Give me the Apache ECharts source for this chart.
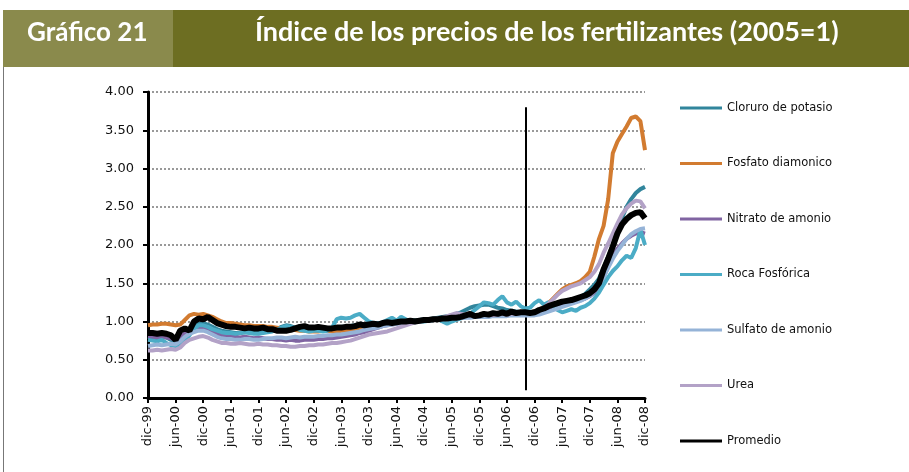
<!DOCTYPE html>
<html>
<head>
<meta charset="utf-8">
<script src="https://cdn.jsdelivr.net/npm/echarts@6/dist/echarts.min.js"></script>
<style>
  html, body { margin: 0; padding: 0; background: #fff; }
  #main { width: 909px; height: 472px; }
</style>
</head>
<body>
<div id="main"></div>
<script>
// meses en castellano, eje mensual dic-99 .. dic-08
const monthNames = ['ene', 'feb', 'mar', 'abr', 'may', 'jun', 'jul', 'ago', 'sep', 'oct', 'nov', 'dic'];
const years = ['00', '01', '02', '03', '04', '05', '06', '07', '08'];
const categories = ['dic-99'];
years.forEach(y => monthNames.forEach(m => categories.push(m + '-' + y)));

const seriesNames = ['Cloruro de potasio', 'Fosfato diamonico', 'Nitrato de amonio', 'Roca Fosfórica', 'Sulfato de amonio', 'Urea', 'Promedio'];
const seriesColors = ['#31859c', '#d27b30', '#8064a2', '#4bacc6', '#95b3d7', '#b3a2c7', '#000000'];

const cloruro = [
  0.80, 0.79, 0.78, 0.80, 0.79, 0.76, 0.74, 0.78, 0.84, 0.90, 0.95, 0.97,
  0.98, 0.96, 0.93, 0.90, 0.88, 0.87, 0.86, 0.85, 0.85, 0.86, 0.86, 0.87,
  0.86, 0.86, 0.87, 0.88, 0.90, 0.93, 0.95, 0.94, 0.92, 0.90, 0.89, 0.88,
  0.88, 0.88, 0.89, 0.90, 0.91, 0.92, 0.93, 0.93, 0.94, 0.95, 0.96, 0.96,
  0.97, 0.97, 0.98, 0.98, 0.99, 0.99, 1.00, 1.00, 1.01, 1.01, 1.02, 1.02,
  1.03, 1.03, 1.04, 1.05, 1.06, 1.07, 1.08, 1.10, 1.12, 1.15, 1.18, 1.20,
  1.21, 1.22, 1.22, 1.20, 1.18, 1.17, 1.15, 1.14, 1.13, 1.12, 1.12, 1.12,
  1.13, 1.14, 1.16, 1.18, 1.20, 1.21, 1.22, 1.24, 1.26, 1.29, 1.32, 1.36,
  1.42, 1.48, 1.56, 1.70, 1.85, 2.00, 2.20, 2.35, 2.50, 2.60, 2.68, 2.73,
  2.76
];
const fosfato = [
  0.95, 0.96, 0.96, 0.97, 0.97, 0.96, 0.95, 0.96, 1.02, 1.08, 1.10, 1.09,
  1.10, 1.08, 1.06, 1.03, 1.00, 0.98, 0.98, 0.97, 0.96, 0.95, 0.95, 0.94,
  0.94, 0.94, 0.93, 0.93, 0.92, 0.91, 0.90, 0.90, 0.89, 0.88, 0.88, 0.87,
  0.87, 0.87, 0.88, 0.88, 0.87, 0.87, 0.88, 0.88, 0.89, 0.90, 0.91, 0.93,
  0.95, 0.96, 0.96, 0.97, 0.98, 0.98, 0.99, 1.00, 1.00, 1.00, 1.01, 1.01,
  1.02, 1.02, 1.03, 1.03, 1.04, 1.05, 1.05, 1.06, 1.07, 1.07, 1.08, 1.08,
  1.08, 1.09, 1.09, 1.10, 1.10, 1.10, 1.11, 1.11, 1.11, 1.12, 1.12, 1.12,
  1.13, 1.15, 1.19, 1.24, 1.30, 1.36, 1.42, 1.46, 1.48, 1.50, 1.53, 1.58,
  1.65, 1.85, 2.08, 2.25, 2.60, 3.20, 3.35, 3.45, 3.55, 3.66, 3.68, 3.62,
  3.24
];
const nitrato = [
  0.80, 0.80, 0.79, 0.80, 0.79, 0.78, 0.76, 0.79, 0.85, 0.90, 0.92, 0.93,
  0.92, 0.90, 0.86, 0.84, 0.82, 0.81, 0.80, 0.80, 0.79, 0.80, 0.79, 0.78,
  0.79, 0.78, 0.77, 0.77, 0.76, 0.76, 0.75, 0.76, 0.75, 0.75, 0.76, 0.76,
  0.76, 0.77, 0.77, 0.78, 0.78, 0.79, 0.80, 0.81, 0.82, 0.83, 0.85, 0.86,
  0.88, 0.90, 0.92, 0.94, 0.95, 0.96, 0.97, 0.98, 0.99, 1.00, 1.00, 1.01,
  1.01, 1.02, 1.02, 1.03, 1.03, 1.04, 1.04, 1.05, 1.05, 1.06, 1.06, 1.07,
  1.07, 1.07, 1.08, 1.08, 1.08, 1.09, 1.09, 1.09, 1.10, 1.10, 1.10, 1.10,
  1.10, 1.11, 1.13, 1.15, 1.17, 1.19, 1.21, 1.23, 1.24, 1.26, 1.28, 1.30,
  1.33, 1.38, 1.46, 1.58, 1.72, 1.85, 1.95, 2.02, 2.08, 2.12, 2.15, 2.17,
  2.15
];
const roca = [
  0.76, 0.75, 0.74, 0.76, 0.72, 0.69, 0.68, 0.70, 0.74, 0.82, 0.90, 0.95,
  0.95, 0.93, 0.90, 0.88, 0.86, 0.85, 0.85, 0.84, 0.85, 0.86, 0.85, 0.84,
  0.84, 0.85, 0.86, 0.87, 0.89, 0.92, 0.94, 0.93, 0.91, 0.89, 0.88, 0.87,
  0.88, 0.88, 0.87, 0.88, 0.92, 1.03, 1.05, 1.04, 1.05, 1.08, 1.10, 1.05,
  1.00, 0.98, 0.97, 0.99, 1.02, 1.05, 1.01, 1.06, 1.03, 1.00, 0.99, 1.00,
  1.00, 1.01, 1.02, 1.03, 1.00, 0.97, 1.00, 1.02, 1.04, 1.06, 1.10, 1.15,
  1.20, 1.25, 1.24, 1.22, 1.28, 1.33, 1.25, 1.22, 1.26, 1.20, 1.17, 1.18,
  1.24, 1.28, 1.22, 1.25, 1.20, 1.15, 1.12, 1.14, 1.16, 1.14, 1.18, 1.20,
  1.24, 1.30, 1.38, 1.48, 1.58, 1.66, 1.72, 1.80, 1.86, 1.83, 1.96, 2.20,
  2.00
];
const sulfato = [
  0.68, 0.69, 0.70, 0.69, 0.70, 0.71, 0.70, 0.74, 0.80, 0.84, 0.86, 0.88,
  0.88, 0.86, 0.83, 0.80, 0.78, 0.77, 0.77, 0.76, 0.76, 0.77, 0.77, 0.76,
  0.76, 0.77, 0.78, 0.78, 0.79, 0.79, 0.78, 0.79, 0.80, 0.79, 0.80, 0.80,
  0.80, 0.81, 0.81, 0.82, 0.82, 0.83, 0.83, 0.84, 0.85, 0.86, 0.87, 0.89,
  0.90, 0.91, 0.92, 0.94, 0.95, 0.96, 0.97, 0.98, 0.99, 0.99, 1.00, 1.00,
  1.01, 1.01, 1.02, 1.02, 1.03, 1.03, 1.04, 1.04, 1.05, 1.05, 1.05, 1.06,
  1.06, 1.06, 1.06, 1.07, 1.07, 1.07, 1.07, 1.08, 1.08, 1.08, 1.08, 1.08,
  1.08, 1.09, 1.11, 1.13, 1.15, 1.17, 1.19, 1.21, 1.23, 1.25, 1.27, 1.30,
  1.34, 1.40, 1.48, 1.58, 1.70, 1.82, 1.92, 2.00, 2.08, 2.14, 2.18, 2.21,
  2.22
];
const urea = [
  0.62, 0.62, 0.63, 0.62, 0.63, 0.64, 0.63, 0.66, 0.72, 0.76, 0.78, 0.80,
  0.81, 0.79, 0.76, 0.74, 0.72, 0.72, 0.71, 0.71, 0.72, 0.71, 0.70, 0.70,
  0.71, 0.70, 0.70, 0.69, 0.69, 0.68, 0.68, 0.67, 0.67, 0.68, 0.68, 0.69,
  0.69, 0.70, 0.70, 0.71, 0.72, 0.72, 0.73, 0.74, 0.75, 0.77, 0.79, 0.81,
  0.83, 0.84, 0.85, 0.86, 0.87, 0.89, 0.91, 0.93, 0.95, 0.97, 0.99, 1.00,
  1.01, 1.02, 1.03, 1.04, 1.05, 1.07, 1.09, 1.11, 1.10, 1.09, 1.08, 1.08,
  1.08, 1.09, 1.09, 1.08, 1.09, 1.10, 1.09, 1.10, 1.10, 1.11, 1.11, 1.12,
  1.12, 1.14, 1.18, 1.23, 1.29, 1.35, 1.40, 1.43, 1.46, 1.48, 1.50, 1.54,
  1.58, 1.65, 1.75, 1.90, 2.02, 2.15, 2.28, 2.40, 2.48, 2.54, 2.58, 2.57,
  2.48
];
const promedio = [
  0.85, 0.85, 0.84, 0.85, 0.84, 0.82, 0.76, 0.88, 0.91, 0.88, 1.00, 1.04,
  1.03, 1.06, 1.02, 0.98, 0.96, 0.94, 0.93, 0.93, 0.92, 0.91, 0.92, 0.91,
  0.91, 0.92, 0.90, 0.90, 0.88, 0.88, 0.88, 0.89, 0.91, 0.93, 0.94, 0.92,
  0.92, 0.93, 0.92, 0.91, 0.91, 0.92, 0.92, 0.93, 0.93, 0.94, 0.96, 0.95,
  0.96, 0.97, 0.96, 0.98, 0.99, 0.98, 0.99, 1.00, 1.00, 1.01, 1.00, 1.01,
  1.02, 1.02, 1.03, 1.03, 1.04, 1.04, 1.05, 1.05, 1.06, 1.08, 1.10, 1.07,
  1.08, 1.10, 1.09, 1.11, 1.10, 1.12, 1.10, 1.13, 1.11, 1.12, 1.12, 1.11,
  1.12, 1.15, 1.17, 1.20, 1.22, 1.24, 1.26, 1.27, 1.28, 1.30, 1.32, 1.34,
  1.37, 1.42, 1.50, 1.68, 1.82, 1.98, 2.15, 2.27, 2.34, 2.39, 2.42, 2.43,
  2.35
];
const allSeries = [cloruro, fosfato, nitrato, roca, sulfato, urea, promedio];

const yTicks = { min: 0, max: 4, interval: 0.5 };
const markMonth = 'oct-06';

const chart = echarts.init(document.getElementById('main'));

const series = allSeries.map((data, i) => ({
  name: seriesNames[i],
  type: 'line',
  data: data,
  symbol: 'none',
  smooth: false,
  lineStyle: { color: seriesColors[i], width: i === 6 ? 6 : 4 },
  itemStyle: { color: seriesColors[i] },
  z: 2 + i
}));

// linea vertical de referencia
series[6].markLine = {
  silent: true,
  symbol: 'none',
  label: { show: false },
  lineStyle: { color: '#000', width: 2, type: 'solid' },
  data: [[{ coord: [markMonth, 3.8] }, { coord: [markMonth, 0.1] }]]
};

chart.setOption({
  animation: false,
  textStyle: { fontFamily: 'DejaVu Sans' },
  graphic: [
    { type: 'rect', shape: { x: 3, y: 10, width: 170, height: 57 }, style: { fill: '#8a8a4c' } },
    { type: 'rect', shape: { x: 173, y: 10, width: 736, height: 57 }, style: { fill: '#6d6e22' } },
    { type: 'line', shape: { x1: 3.5, y1: 67, x2: 3.5, y2: 472 }, style: { stroke: '#777', lineWidth: 1 } },
    { type: 'text', left: 27, top: 20, style: { text: 'Gráfico 21', fill: '#fff', font: 'bold 26px Lato' } },
    { type: 'text', left: 255, top: 19, style: { text: 'Índice de los precios de los fertilizantes (2005=1)', fill: '#fff', font: 'bold 27px Lato' } }
  ],
  legend: {
    orient: 'vertical',
    left: 675,
    top: 97,
    itemWidth: 42,
    itemHeight: 3,
    itemGap: 43.5,
    icon: 'rect',
    data: seriesNames,
    textStyle: { fontSize: 11.5, color: '#111', fontFamily: 'DejaVu Sans' }
  },
  grid: { left: 148, top: 92, right: 264, bottom: 74 },
  xAxis: {
    type: 'category',
    data: categories,
    boundaryGap: false,
    axisLine: { lineStyle: { color: '#000', width: 3 } },
    axisTick: { interval: 5, length: 5, lineStyle: { color: '#000', width: 2 } },
    axisLabel: { interval: 5, rotate: 90, fontSize: 13, color: '#111', margin: 8 },
    splitLine: { show: false }
  },
  yAxis: {
    type: 'value',
    min: yTicks.min,
    max: yTicks.max,
    interval: yTicks.interval,
    axisLine: { show: true, lineStyle: { color: '#000', width: 3 } },
    axisTick: { show: true, length: 5, lineStyle: { color: '#000', width: 2 } },
    axisLabel: { fontSize: 13, color: '#111', margin: 14, formatter: v => v.toFixed(2) },
    splitLine: { lineStyle: { color: '#999', width: 2, type: 'dotted' } }
  },
  series: series
});
</script>
</body>
</html>
